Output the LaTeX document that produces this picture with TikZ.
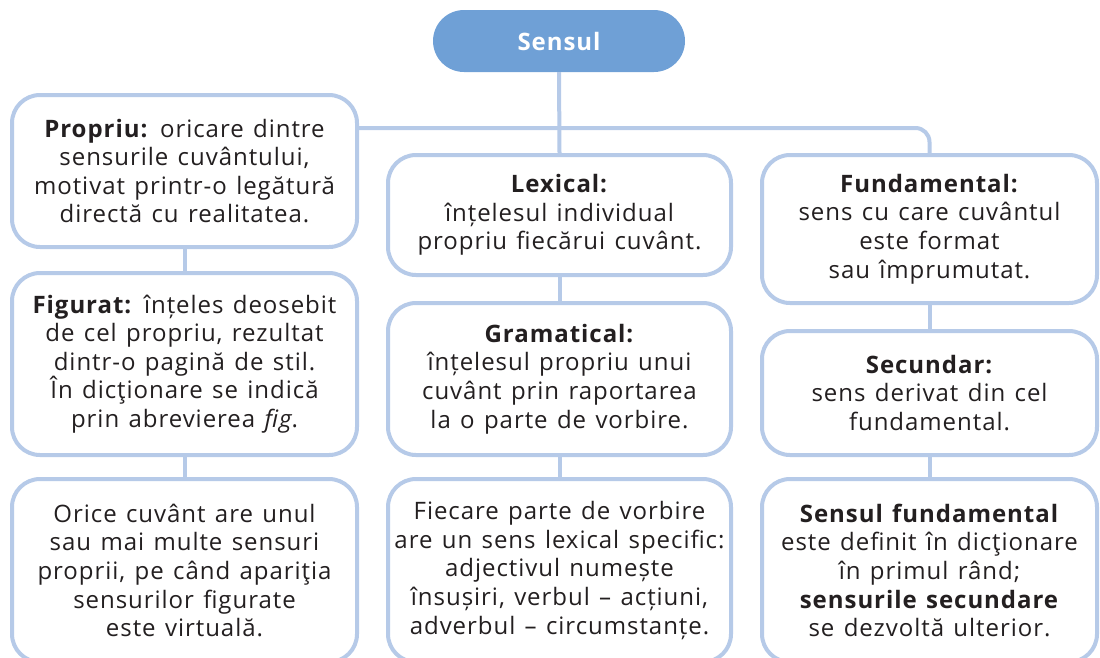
\documentclass[tikz,border=0pt]{standalone}
\usepackage{fontspec}
\setmainfont{Open Sans}[LetterSpace=4, WordSpace=1.3]
\definecolor{boxblue}{RGB}{182,202,232}
\definecolor{pillblue}{RGB}{111,160,214}
\definecolor{textdark}{RGB}{35,31,32}
\tikzset{
  sensbox/.style={draw=boxblue, line width=4pt, rounded corners=28pt, fill=white,
    align=center, text=textdark, inner sep=0pt},
  link/.style={draw=boxblue, line width=4pt},
}
\begin{document}
\begin{tikzpicture}[x=1pt, y=-1pt, font=\fontsize{24}{28.6}\selectfont]
    \useasboundingbox (0,0) rectangle (1100,657);
    \clip (0,0) rectangle (1100,657);

    % Top
    \node[fill=pillblue, rounded corners=31pt, minimum width=252pt, minimum height=62pt,
        text=white, font=\fontsize{24}{28.6}\selectfont\bfseries] (sensul) at (559,41) {Sensul};
    \coordinate (hub) at (559,128);

    % Left column
    \node[sensbox, minimum width=345pt, minimum height=152pt] (prop) at (184.5,171)
        {\textbf{Propriu:} oricare dintre\\ sensurile cuvântului,\\ motivat printr-o legătură\\ directă cu realitatea.};
    \node[sensbox, minimum width=345pt, minimum height=182pt] (fig) at (184.5,364)
        {\textbf{Figurat:} înțeles deosebit\\ de cel propriu, rezultat\\ dintr-o pagină de stil.\\ În dicţionare se indică\\ prin abrevierea \textit{fig}.};
    \node[sensbox, minimum width=345pt, minimum height=183pt] (obsprop) at (184.5,570.5)
        {Orice cuvânt are unul\\ sau mai multe sensuri\\ proprii, pe când apariţia\\ sensurilor figurate\\ este virtuală.};

    % Middle column
    \node[sensbox, minimum width=343pt, minimum height=120pt] (lex) at (559.5,215)
        {\textbf{Lexical:}\\ înțelesul individual\\ propriu fiecărui cuvânt.};
    \node[sensbox, minimum width=343pt, minimum height=152pt] (gram) at (559.5,379)
        {\textbf{Gramatical:}\\ înțelesul propriu unui\\ cuvânt prin raportarea\\ la o parte de vorbire.};
    \node[sensbox, minimum width=343pt, minimum height=183pt] (obsgram) at (559.5,570.5)
        {Fiecare parte de vorbire\\ are un sens lexical specific:\\ adjectivul numește\\ însușiri, verbul – acțiuni,\\ adverbul – circumstanțe.};

    % Right column
    \node[sensbox, minimum width=335pt, minimum height=148pt] (fund) at (929.5,229)
        {\textbf{Fundamental:}\\ sens cu care cuvântul\\ este format\\ sau împrumutat.};
    \node[sensbox, minimum width=335pt, minimum height=124pt] (sec) at (929.5,393)
        {\textbf{Secundar:}\\ sens derivat din cel\\ fundamental.};
    \node[sensbox, minimum width=335pt, minimum height=183pt] (obsfund) at (929.5,570.5)
        {\textbf{Sensul fundamental}\\ este definit în dicţionare\\ în primul rând;\\ \textbf{sensurile secundare}\\ se dezvoltă ulterior.};

    % Links
    \draw[link] (sensul.south) -- (lex.north);
    \draw[link, rounded corners=14pt] (prop.east |- hub) -- (hub -| fund.north) -- (fund.north);
    \foreach \a/\b in {prop/fig, fig/obsprop, lex/gram, gram/obsgram, fund/sec, sec/obsfund}
        \draw[link] (\a.south) -- (\b.north);
\end{tikzpicture}
\end{document}
